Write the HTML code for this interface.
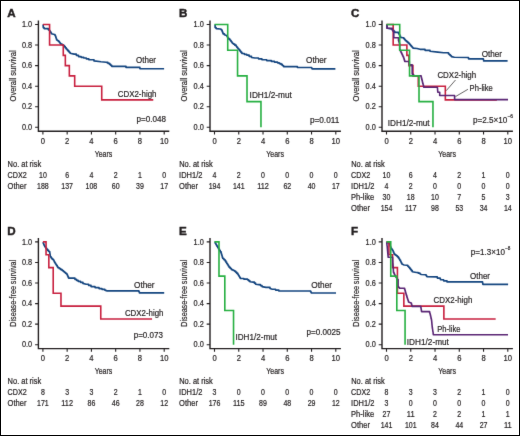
<!DOCTYPE html>
<html><head><meta charset="utf-8"><style>
html,body{margin:0;padding:0;background:#fff;}
svg{display:block;will-change:transform;}
text{font-family:"Liberation Sans", sans-serif;fill:#231f20;stroke:#231f20;stroke-width:0.2px;}
</style></head><body>
<svg width="520" height="436" viewBox="0 0 520 436">
<defs><filter id="bl" color-interpolation-filters="sRGB" x="-5%" y="-5%" width="110%" height="110%"><feConvolveMatrix order="3" kernelMatrix="0.00524 0.06192 0.00524 0.06192 0.73137 0.06192 0.00524 0.06192 0.00524" edgeMode="none" preserveAlpha="false"/></filter></defs>
<rect x="0" y="0" width="520" height="436" fill="#fff"/>
<g filter="url(#bl)">
<text x="7.30" y="17.00" font-size="11.60" font-weight="bold" style="stroke-width:0.45px">A</text>
<path d="M38.40 20.60 V131.20 H169.30" fill="none" stroke="#231f20" stroke-width="1.4"/>
<path d="M35.10 127.30H38.40M35.10 106.74H38.40M35.10 86.18H38.40M35.10 65.62H38.40M35.10 45.06H38.40M35.10 24.50H38.40M42.90 131.20V134.40M67.16 131.20V134.40M91.42 131.20V134.40M115.68 131.20V134.40M139.94 131.20V134.40M164.20 131.20V134.40" fill="none" stroke="#231f20" stroke-width="1.1"/>
<text x="32.20" y="130.05" font-size="8.30" text-anchor="end" textLength="10.20" lengthAdjust="spacingAndGlyphs">0.0</text>
<text x="32.20" y="109.49" font-size="8.30" text-anchor="end" textLength="10.20" lengthAdjust="spacingAndGlyphs">0.2</text>
<text x="32.20" y="88.93" font-size="8.30" text-anchor="end" textLength="10.20" lengthAdjust="spacingAndGlyphs">0.4</text>
<text x="32.20" y="68.37" font-size="8.30" text-anchor="end" textLength="10.20" lengthAdjust="spacingAndGlyphs">0.6</text>
<text x="32.20" y="47.81" font-size="8.30" text-anchor="end" textLength="10.20" lengthAdjust="spacingAndGlyphs">0.8</text>
<text x="32.20" y="27.25" font-size="8.30" text-anchor="end" textLength="10.20" lengthAdjust="spacingAndGlyphs">1.0</text>
<text x="42.90" y="143.90" font-size="8.30" text-anchor="middle" textLength="4.25" lengthAdjust="spacingAndGlyphs">0</text>
<text x="67.16" y="143.90" font-size="8.30" text-anchor="middle" textLength="4.25" lengthAdjust="spacingAndGlyphs">2</text>
<text x="91.42" y="143.90" font-size="8.30" text-anchor="middle" textLength="4.25" lengthAdjust="spacingAndGlyphs">4</text>
<text x="115.68" y="143.90" font-size="8.30" text-anchor="middle" textLength="4.25" lengthAdjust="spacingAndGlyphs">6</text>
<text x="139.94" y="143.90" font-size="8.30" text-anchor="middle" textLength="4.25" lengthAdjust="spacingAndGlyphs">8</text>
<text x="164.20" y="143.90" font-size="8.30" text-anchor="middle" textLength="8.50" lengthAdjust="spacingAndGlyphs">10</text>
<text x="103.50" y="156.80" font-size="8.60" text-anchor="middle" textLength="17.60" lengthAdjust="spacingAndGlyphs">Years</text>
<text transform="translate(15.80 75.90) rotate(-90)" font-size="9.00" text-anchor="middle" textLength="51.00" lengthAdjust="spacingAndGlyphs">Overall survival</text>
<path d="M43.10 24.50 L43.30 27.60 L44.10 27.60 L44.10 28.60 L48.30 28.60 L48.30 29.70 L49.00 29.70 L49.00 30.35 L49.70 30.35 L49.70 31.00 L50.27 31.00 L50.27 31.93 L50.83 31.93 L50.83 32.87 L51.40 32.87 L51.40 33.80 L54.50 34.50 L55.00 34.50 L55.00 35.55 L55.50 35.55 L55.50 36.60 L55.87 36.60 L55.87 37.73 L56.23 37.73 L56.23 38.87 L56.60 38.87 L56.60 40.00 L57.60 40.00 L57.60 40.70 L58.60 40.70 L58.60 41.40 L59.30 41.40 L59.30 42.30 L60.00 42.30 L60.00 43.20 L60.70 43.20 L60.70 44.10 L62.05 44.10 L62.05 44.80 L63.40 44.80 L63.40 45.50 L64.33 45.50 L64.33 46.67 L65.27 46.67 L65.27 47.83 L66.20 47.83 L66.20 49.00 L67.17 49.00 L67.17 50.08 L68.15 50.08 L68.15 51.15 L69.12 51.15 L69.12 52.22 L70.10 52.22 L70.10 53.30 L74.10 54.10 L76.30 54.10 L76.30 55.35 L78.50 55.35 L78.50 56.60 L81.10 56.60 L81.10 57.30 L83.70 57.30 L83.70 58.00 L86.25 58.00 L86.25 58.85 L88.80 58.85 L88.80 59.70 L94.00 59.70 L94.00 60.90 L101.00 61.80 L106.10 62.30 L107.85 62.30 L107.85 63.35 L109.60 63.35 L109.60 64.40 L110.65 64.40 L110.65 65.35 L111.70 65.35 L111.70 66.30 L124.30 66.30 L126.00 66.30 L126.00 67.40 L139.00 67.40 L139.90 67.40 L139.90 68.70 L164.10 68.70" fill="none" stroke="#154680" stroke-width="1.65" stroke-linejoin="round" stroke-linecap="butt"/>
<path d="M42.90 24.50H49.57V45.06H63.28V55.34H65.34V65.62H69.34V75.90H74.68V86.18H101.73V99.85H153.28" fill="none" stroke="#c8203f" stroke-width="1.60" stroke-linejoin="miter" stroke-linecap="butt"/>
<text x="136.00" y="63.40" font-size="8.70" textLength="20.00" lengthAdjust="spacingAndGlyphs">Other</text>
<text x="117.70" y="96.50" font-size="8.70" textLength="38.80" lengthAdjust="spacingAndGlyphs">CDX2-high</text>
<text x="136.60" y="121.90" font-size="8.70" textLength="29.50" lengthAdjust="spacingAndGlyphs">p=0.048</text>
<text x="7.60" y="166.80" font-size="8.20" textLength="33.60" lengthAdjust="spacingAndGlyphs">No. at risk</text>
<text x="7.50" y="177.80" font-size="8.20" textLength="19.20" lengthAdjust="spacingAndGlyphs">CDX2</text>
<text x="42.90" y="177.80" font-size="8.20" text-anchor="middle" textLength="7.80" lengthAdjust="spacingAndGlyphs">10</text>
<text x="67.16" y="177.80" font-size="8.20" text-anchor="middle" textLength="3.90" lengthAdjust="spacingAndGlyphs">6</text>
<text x="91.42" y="177.80" font-size="8.20" text-anchor="middle" textLength="3.90" lengthAdjust="spacingAndGlyphs">4</text>
<text x="115.68" y="177.80" font-size="8.20" text-anchor="middle" textLength="3.90" lengthAdjust="spacingAndGlyphs">2</text>
<text x="139.94" y="177.80" font-size="8.20" text-anchor="middle" textLength="3.90" lengthAdjust="spacingAndGlyphs">1</text>
<text x="164.20" y="177.80" font-size="8.20" text-anchor="middle" textLength="3.90" lengthAdjust="spacingAndGlyphs">0</text>
<text x="7.50" y="188.88" font-size="8.20" textLength="18.90" lengthAdjust="spacingAndGlyphs">Other</text>
<text x="42.90" y="188.88" font-size="8.20" text-anchor="middle" textLength="11.70" lengthAdjust="spacingAndGlyphs">188</text>
<text x="67.16" y="188.88" font-size="8.20" text-anchor="middle" textLength="11.70" lengthAdjust="spacingAndGlyphs">137</text>
<text x="91.42" y="188.88" font-size="8.20" text-anchor="middle" textLength="11.70" lengthAdjust="spacingAndGlyphs">108</text>
<text x="115.68" y="188.88" font-size="8.20" text-anchor="middle" textLength="7.80" lengthAdjust="spacingAndGlyphs">60</text>
<text x="139.94" y="188.88" font-size="8.20" text-anchor="middle" textLength="7.80" lengthAdjust="spacingAndGlyphs">39</text>
<text x="164.20" y="188.88" font-size="8.20" text-anchor="middle" textLength="7.80" lengthAdjust="spacingAndGlyphs">17</text>
<text x="178.90" y="17.00" font-size="11.60" font-weight="bold" style="stroke-width:0.45px">B</text>
<path d="M210.00 20.60 V131.20 H340.90" fill="none" stroke="#231f20" stroke-width="1.4"/>
<path d="M206.70 127.30H210.00M206.70 106.74H210.00M206.70 86.18H210.00M206.70 65.62H210.00M206.70 45.06H210.00M206.70 24.50H210.00M214.50 131.20V134.40M238.76 131.20V134.40M263.02 131.20V134.40M287.28 131.20V134.40M311.54 131.20V134.40M335.80 131.20V134.40" fill="none" stroke="#231f20" stroke-width="1.1"/>
<text x="203.80" y="130.05" font-size="8.30" text-anchor="end" textLength="10.20" lengthAdjust="spacingAndGlyphs">0.0</text>
<text x="203.80" y="109.49" font-size="8.30" text-anchor="end" textLength="10.20" lengthAdjust="spacingAndGlyphs">0.2</text>
<text x="203.80" y="88.93" font-size="8.30" text-anchor="end" textLength="10.20" lengthAdjust="spacingAndGlyphs">0.4</text>
<text x="203.80" y="68.37" font-size="8.30" text-anchor="end" textLength="10.20" lengthAdjust="spacingAndGlyphs">0.6</text>
<text x="203.80" y="47.81" font-size="8.30" text-anchor="end" textLength="10.20" lengthAdjust="spacingAndGlyphs">0.8</text>
<text x="203.80" y="27.25" font-size="8.30" text-anchor="end" textLength="10.20" lengthAdjust="spacingAndGlyphs">1.0</text>
<text x="214.50" y="143.90" font-size="8.30" text-anchor="middle" textLength="4.25" lengthAdjust="spacingAndGlyphs">0</text>
<text x="238.76" y="143.90" font-size="8.30" text-anchor="middle" textLength="4.25" lengthAdjust="spacingAndGlyphs">2</text>
<text x="263.02" y="143.90" font-size="8.30" text-anchor="middle" textLength="4.25" lengthAdjust="spacingAndGlyphs">4</text>
<text x="287.28" y="143.90" font-size="8.30" text-anchor="middle" textLength="4.25" lengthAdjust="spacingAndGlyphs">6</text>
<text x="311.54" y="143.90" font-size="8.30" text-anchor="middle" textLength="4.25" lengthAdjust="spacingAndGlyphs">8</text>
<text x="335.80" y="143.90" font-size="8.30" text-anchor="middle" textLength="8.50" lengthAdjust="spacingAndGlyphs">10</text>
<text x="275.10" y="156.80" font-size="8.60" text-anchor="middle" textLength="17.60" lengthAdjust="spacingAndGlyphs">Years</text>
<text transform="translate(187.40 75.90) rotate(-90)" font-size="9.00" text-anchor="middle" textLength="51.00" lengthAdjust="spacingAndGlyphs">Overall survival</text>
<path d="M215.10 24.60 L215.10 27.60 L216.10 27.60 L216.10 28.60 L220.30 29.00 L221.00 29.00 L221.00 29.65 L221.70 29.65 L221.70 30.30 L222.13 30.30 L222.13 31.47 L222.57 31.47 L222.57 32.63 L223.00 32.63 L223.00 33.80 L224.40 33.80 L224.40 34.80 L226.50 35.50 L226.97 35.50 L226.97 36.43 L227.43 36.43 L227.43 37.37 L227.90 37.37 L227.90 38.30 L228.90 38.30 L228.90 39.15 L229.90 39.15 L229.90 40.00 L230.60 40.00 L230.60 40.93 L231.30 40.93 L231.30 41.87 L232.00 41.87 L232.00 42.80 L232.70 42.80 L232.70 43.45 L233.40 43.45 L233.40 44.10 L234.75 44.10 L234.75 45.15 L236.10 45.15 L236.10 46.20 L236.80 46.20 L236.80 47.13 L237.50 47.13 L237.50 48.07 L238.20 48.07 L238.20 49.00 L239.12 49.00 L239.12 50.12 L240.05 50.12 L240.05 51.25 L240.97 51.25 L240.97 52.38 L241.90 52.38 L241.90 53.50 L244.30 53.50 L244.30 54.30 L246.70 54.30 L246.70 55.10 L249.10 55.10 L249.10 56.30 L251.50 56.30 L251.50 57.50 L255.00 58.00 L258.45 58.00 L258.45 58.85 L261.90 58.85 L261.90 59.70 L266.65 59.70 L266.65 60.55 L271.40 60.55 L271.40 61.40 L274.45 61.40 L274.45 62.10 L277.50 62.10 L277.50 62.80 L279.25 62.80 L279.25 63.60 L281.00 63.60 L281.00 64.40 L282.25 64.40 L282.25 65.50 L283.50 65.50 L283.50 66.60 L296.50 66.60 L297.40 66.60 L297.40 67.50 L311.20 67.50 L311.65 67.50 L311.65 68.20 L312.10 68.20 L312.10 68.90 L335.40 68.90" fill="none" stroke="#154680" stroke-width="1.65" stroke-linejoin="round" stroke-linecap="butt"/>
<path d="M214.50 24.50H227.72V50.20H237.55V75.90H247.01V101.60H260.96V127.30" fill="none" stroke="#27b042" stroke-width="1.60" stroke-linejoin="miter" stroke-linecap="butt"/>
<text x="306.00" y="63.00" font-size="8.70" textLength="20.60" lengthAdjust="spacingAndGlyphs">Other</text>
<text x="249.60" y="97.70" font-size="8.70" textLength="42.20" lengthAdjust="spacingAndGlyphs">IDH1/2-mut</text>
<text x="309.90" y="123.20" font-size="8.70" textLength="29.40" lengthAdjust="spacingAndGlyphs">p=0.011</text>
<text x="179.20" y="166.80" font-size="8.20" textLength="33.60" lengthAdjust="spacingAndGlyphs">No. at risk</text>
<text x="179.10" y="177.80" font-size="8.20" textLength="23.30" lengthAdjust="spacingAndGlyphs">IDH1/2</text>
<text x="214.50" y="177.80" font-size="8.20" text-anchor="middle" textLength="3.90" lengthAdjust="spacingAndGlyphs">4</text>
<text x="238.76" y="177.80" font-size="8.20" text-anchor="middle" textLength="3.90" lengthAdjust="spacingAndGlyphs">2</text>
<text x="263.02" y="177.80" font-size="8.20" text-anchor="middle" textLength="3.90" lengthAdjust="spacingAndGlyphs">0</text>
<text x="287.28" y="177.80" font-size="8.20" text-anchor="middle" textLength="3.90" lengthAdjust="spacingAndGlyphs">0</text>
<text x="311.54" y="177.80" font-size="8.20" text-anchor="middle" textLength="3.90" lengthAdjust="spacingAndGlyphs">0</text>
<text x="335.80" y="177.80" font-size="8.20" text-anchor="middle" textLength="3.90" lengthAdjust="spacingAndGlyphs">0</text>
<text x="179.10" y="188.88" font-size="8.20" textLength="18.90" lengthAdjust="spacingAndGlyphs">Other</text>
<text x="214.50" y="188.88" font-size="8.20" text-anchor="middle" textLength="11.70" lengthAdjust="spacingAndGlyphs">194</text>
<text x="238.76" y="188.88" font-size="8.20" text-anchor="middle" textLength="11.70" lengthAdjust="spacingAndGlyphs">141</text>
<text x="263.02" y="188.88" font-size="8.20" text-anchor="middle" textLength="11.70" lengthAdjust="spacingAndGlyphs">112</text>
<text x="287.28" y="188.88" font-size="8.20" text-anchor="middle" textLength="7.80" lengthAdjust="spacingAndGlyphs">62</text>
<text x="311.54" y="188.88" font-size="8.20" text-anchor="middle" textLength="7.80" lengthAdjust="spacingAndGlyphs">40</text>
<text x="335.80" y="188.88" font-size="8.20" text-anchor="middle" textLength="7.80" lengthAdjust="spacingAndGlyphs">17</text>
<text x="350.90" y="17.00" font-size="11.60" font-weight="bold" style="stroke-width:0.45px">C</text>
<path d="M382.00 20.60 V131.20 H512.90" fill="none" stroke="#231f20" stroke-width="1.4"/>
<path d="M378.70 127.30H382.00M378.70 106.74H382.00M378.70 86.18H382.00M378.70 65.62H382.00M378.70 45.06H382.00M378.70 24.50H382.00M386.50 131.20V134.40M410.76 131.20V134.40M435.02 131.20V134.40M459.28 131.20V134.40M483.54 131.20V134.40M507.80 131.20V134.40" fill="none" stroke="#231f20" stroke-width="1.1"/>
<text x="375.80" y="130.05" font-size="8.30" text-anchor="end" textLength="10.20" lengthAdjust="spacingAndGlyphs">0.0</text>
<text x="375.80" y="109.49" font-size="8.30" text-anchor="end" textLength="10.20" lengthAdjust="spacingAndGlyphs">0.2</text>
<text x="375.80" y="88.93" font-size="8.30" text-anchor="end" textLength="10.20" lengthAdjust="spacingAndGlyphs">0.4</text>
<text x="375.80" y="68.37" font-size="8.30" text-anchor="end" textLength="10.20" lengthAdjust="spacingAndGlyphs">0.6</text>
<text x="375.80" y="47.81" font-size="8.30" text-anchor="end" textLength="10.20" lengthAdjust="spacingAndGlyphs">0.8</text>
<text x="375.80" y="27.25" font-size="8.30" text-anchor="end" textLength="10.20" lengthAdjust="spacingAndGlyphs">1.0</text>
<text x="386.50" y="143.90" font-size="8.30" text-anchor="middle" textLength="4.25" lengthAdjust="spacingAndGlyphs">0</text>
<text x="410.76" y="143.90" font-size="8.30" text-anchor="middle" textLength="4.25" lengthAdjust="spacingAndGlyphs">2</text>
<text x="435.02" y="143.90" font-size="8.30" text-anchor="middle" textLength="4.25" lengthAdjust="spacingAndGlyphs">4</text>
<text x="459.28" y="143.90" font-size="8.30" text-anchor="middle" textLength="4.25" lengthAdjust="spacingAndGlyphs">6</text>
<text x="483.54" y="143.90" font-size="8.30" text-anchor="middle" textLength="4.25" lengthAdjust="spacingAndGlyphs">8</text>
<text x="507.80" y="143.90" font-size="8.30" text-anchor="middle" textLength="8.50" lengthAdjust="spacingAndGlyphs">10</text>
<text x="447.10" y="156.80" font-size="8.60" text-anchor="middle" textLength="17.60" lengthAdjust="spacingAndGlyphs">Years</text>
<text transform="translate(359.40 75.90) rotate(-90)" font-size="9.00" text-anchor="middle" textLength="51.00" lengthAdjust="spacingAndGlyphs">Overall survival</text>
<path d="M386.90 24.50 L387.30 28.30 L392.30 29.10 L393.10 29.10 L393.10 30.20 L393.90 30.20 L393.90 31.30 L394.70 31.30 L394.70 32.40 L398.50 32.40 L398.50 33.60 L399.17 33.60 L399.17 34.87 L399.83 34.87 L399.83 36.13 L400.50 36.13 L400.50 37.40 L403.00 37.80 L403.83 37.80 L403.83 38.77 L404.67 38.77 L404.67 39.73 L405.50 39.73 L405.50 40.70 L406.60 40.70 L406.60 41.67 L407.70 41.67 L407.70 42.63 L408.80 42.63 L408.80 43.60 L409.63 43.60 L409.63 44.53 L410.47 44.53 L410.47 45.47 L411.30 45.47 L411.30 46.40 L412.10 46.40 L412.10 47.25 L412.90 47.25 L412.90 48.10 L417.00 48.50 L420.00 49.30 L425.00 49.30 L425.00 50.30 L430.00 50.30 L430.00 51.30 L437.80 52.10 L443.60 52.70 L448.50 52.70 L448.50 54.00 L449.47 54.00 L449.47 54.87 L450.43 54.87 L450.43 55.73 L451.40 55.73 L451.40 56.60 L454.40 57.30 L467.90 57.50 L468.50 57.50 L468.50 58.80 L483.10 58.80 L483.35 58.80 L483.35 59.85 L483.60 59.85 L483.60 60.90 L507.60 60.90" fill="none" stroke="#154680" stroke-width="1.65" stroke-linejoin="round" stroke-linecap="butt"/>
<path d="M386.50 24.50H393.17V45.06H406.88V55.34H408.94V65.62H412.94V75.90H418.28V86.18H445.33V99.85H496.88" fill="none" stroke="#c8203f" stroke-width="1.60" stroke-linejoin="miter" stroke-linecap="butt"/>
<path d="M386.90 24.50 L386.90 28.30 L392.30 28.30 L392.30 30.30 L393.05 30.30 L393.05 31.35 L393.80 31.35 L393.80 32.40 L393.80 37.80 L398.50 37.80 L398.50 40.70 L398.80 40.70 L398.80 41.73 L399.10 41.73 L399.10 42.75 L399.40 42.75 L399.40 43.77 L399.70 43.77 L399.70 44.80 L399.70 49.80 L400.30 49.80 L400.30 51.00 L400.90 51.00 L400.90 52.20 L401.44 52.20 L401.44 53.36 L401.98 53.36 L401.98 54.52 L402.52 54.52 L402.52 55.68 L403.06 55.68 L403.06 56.84 L403.60 56.84 L403.60 58.00 L403.97 58.00 L403.97 59.17 L404.33 59.17 L404.33 60.33 L404.70 60.33 L404.70 61.50 L409.30 61.50 L409.30 64.90 L412.20 64.90 L412.20 74.10 L413.05 74.10 L413.05 74.95 L413.90 74.95 L413.90 75.80 L420.80 75.80 L421.12 75.80 L421.12 77.08 L421.44 77.08 L421.44 78.36 L421.77 78.36 L421.77 79.63 L422.09 79.63 L422.09 80.91 L422.41 80.91 L422.41 82.19 L422.73 82.19 L422.73 83.47 L423.06 83.47 L423.06 84.74 L423.38 84.74 L423.38 86.02 L423.70 86.02 L423.70 87.30 L437.40 87.30 L437.80 92.20 L439.70 92.20 L439.70 95.50 L454.60 95.50 L454.60 99.60 L508.00 99.60" fill="none" stroke="#5a2574" stroke-width="1.60" stroke-linejoin="round" stroke-linecap="butt"/>
<path d="M386.50 24.50H399.72V50.20H409.55V75.90H419.01V101.60H432.96V127.30" fill="none" stroke="#27b042" stroke-width="1.60" stroke-linejoin="miter" stroke-linecap="butt"/>
<path d="M455.50 80.00 L446.20 90.70" stroke="#231f20" stroke-width="0.7"/>
<path d="M467.90 89.30 L455.50 96.60" stroke="#231f20" stroke-width="0.7"/>
<text x="481.70" y="56.80" font-size="8.70" textLength="20.40" lengthAdjust="spacingAndGlyphs">Other</text>
<text x="437.40" y="78.20" font-size="8.70" textLength="38.80" lengthAdjust="spacingAndGlyphs">CDX2-high</text>
<text x="469.60" y="91.30" font-size="8.70" textLength="23.20" lengthAdjust="spacingAndGlyphs">Ph-like</text>
<text x="387.80" y="126.10" font-size="8.70" textLength="41.80" lengthAdjust="spacingAndGlyphs">IDH1/2-mut</text>
<text x="472.90" y="122.50" font-size="8.70" textLength="34.40" lengthAdjust="spacingAndGlyphs">p=2.5×10</text>
<text x="507.50" y="117.90" font-size="5.60" textLength="5.60" lengthAdjust="spacingAndGlyphs">−6</text>
<text x="351.20" y="166.80" font-size="8.20" textLength="33.60" lengthAdjust="spacingAndGlyphs">No. at risk</text>
<text x="351.10" y="177.80" font-size="8.20" textLength="19.20" lengthAdjust="spacingAndGlyphs">CDX2</text>
<text x="386.50" y="177.80" font-size="8.20" text-anchor="middle" textLength="7.80" lengthAdjust="spacingAndGlyphs">10</text>
<text x="410.76" y="177.80" font-size="8.20" text-anchor="middle" textLength="3.90" lengthAdjust="spacingAndGlyphs">6</text>
<text x="435.02" y="177.80" font-size="8.20" text-anchor="middle" textLength="3.90" lengthAdjust="spacingAndGlyphs">4</text>
<text x="459.28" y="177.80" font-size="8.20" text-anchor="middle" textLength="3.90" lengthAdjust="spacingAndGlyphs">2</text>
<text x="483.54" y="177.80" font-size="8.20" text-anchor="middle" textLength="3.90" lengthAdjust="spacingAndGlyphs">1</text>
<text x="507.80" y="177.80" font-size="8.20" text-anchor="middle" textLength="3.90" lengthAdjust="spacingAndGlyphs">0</text>
<text x="351.10" y="188.88" font-size="8.20" textLength="23.30" lengthAdjust="spacingAndGlyphs">IDH1/2</text>
<text x="386.50" y="188.88" font-size="8.20" text-anchor="middle" textLength="3.90" lengthAdjust="spacingAndGlyphs">4</text>
<text x="410.76" y="188.88" font-size="8.20" text-anchor="middle" textLength="3.90" lengthAdjust="spacingAndGlyphs">2</text>
<text x="435.02" y="188.88" font-size="8.20" text-anchor="middle" textLength="3.90" lengthAdjust="spacingAndGlyphs">0</text>
<text x="459.28" y="188.88" font-size="8.20" text-anchor="middle" textLength="3.90" lengthAdjust="spacingAndGlyphs">0</text>
<text x="483.54" y="188.88" font-size="8.20" text-anchor="middle" textLength="3.90" lengthAdjust="spacingAndGlyphs">0</text>
<text x="507.80" y="188.88" font-size="8.20" text-anchor="middle" textLength="3.90" lengthAdjust="spacingAndGlyphs">0</text>
<text x="351.10" y="199.96" font-size="8.20" textLength="23.00" lengthAdjust="spacingAndGlyphs">Ph-like</text>
<text x="386.50" y="199.96" font-size="8.20" text-anchor="middle" textLength="7.80" lengthAdjust="spacingAndGlyphs">30</text>
<text x="410.76" y="199.96" font-size="8.20" text-anchor="middle" textLength="7.80" lengthAdjust="spacingAndGlyphs">18</text>
<text x="435.02" y="199.96" font-size="8.20" text-anchor="middle" textLength="7.80" lengthAdjust="spacingAndGlyphs">10</text>
<text x="459.28" y="199.96" font-size="8.20" text-anchor="middle" textLength="3.90" lengthAdjust="spacingAndGlyphs">7</text>
<text x="483.54" y="199.96" font-size="8.20" text-anchor="middle" textLength="3.90" lengthAdjust="spacingAndGlyphs">5</text>
<text x="507.80" y="199.96" font-size="8.20" text-anchor="middle" textLength="3.90" lengthAdjust="spacingAndGlyphs">3</text>
<text x="351.10" y="211.04" font-size="8.20" textLength="18.90" lengthAdjust="spacingAndGlyphs">Other</text>
<text x="386.50" y="211.04" font-size="8.20" text-anchor="middle" textLength="11.70" lengthAdjust="spacingAndGlyphs">154</text>
<text x="410.76" y="211.04" font-size="8.20" text-anchor="middle" textLength="11.70" lengthAdjust="spacingAndGlyphs">117</text>
<text x="435.02" y="211.04" font-size="8.20" text-anchor="middle" textLength="7.80" lengthAdjust="spacingAndGlyphs">98</text>
<text x="459.28" y="211.04" font-size="8.20" text-anchor="middle" textLength="7.80" lengthAdjust="spacingAndGlyphs">53</text>
<text x="483.54" y="211.04" font-size="8.20" text-anchor="middle" textLength="7.80" lengthAdjust="spacingAndGlyphs">34</text>
<text x="507.80" y="211.04" font-size="8.20" text-anchor="middle" textLength="7.80" lengthAdjust="spacingAndGlyphs">14</text>
<text x="7.30" y="235.40" font-size="11.60" font-weight="bold" style="stroke-width:0.45px">D</text>
<path d="M38.40 238.00 V348.60 H169.30" fill="none" stroke="#231f20" stroke-width="1.4"/>
<path d="M35.10 344.70H38.40M35.10 324.14H38.40M35.10 303.58H38.40M35.10 283.02H38.40M35.10 262.46H38.40M35.10 241.90H38.40M42.90 348.60V351.80M67.16 348.60V351.80M91.42 348.60V351.80M115.68 348.60V351.80M139.94 348.60V351.80M164.20 348.60V351.80" fill="none" stroke="#231f20" stroke-width="1.1"/>
<text x="32.20" y="347.45" font-size="8.30" text-anchor="end" textLength="10.20" lengthAdjust="spacingAndGlyphs">0.0</text>
<text x="32.20" y="326.89" font-size="8.30" text-anchor="end" textLength="10.20" lengthAdjust="spacingAndGlyphs">0.2</text>
<text x="32.20" y="306.33" font-size="8.30" text-anchor="end" textLength="10.20" lengthAdjust="spacingAndGlyphs">0.4</text>
<text x="32.20" y="285.77" font-size="8.30" text-anchor="end" textLength="10.20" lengthAdjust="spacingAndGlyphs">0.6</text>
<text x="32.20" y="265.21" font-size="8.30" text-anchor="end" textLength="10.20" lengthAdjust="spacingAndGlyphs">0.8</text>
<text x="32.20" y="244.65" font-size="8.30" text-anchor="end" textLength="10.20" lengthAdjust="spacingAndGlyphs">1.0</text>
<text x="42.90" y="361.30" font-size="8.30" text-anchor="middle" textLength="4.25" lengthAdjust="spacingAndGlyphs">0</text>
<text x="67.16" y="361.30" font-size="8.30" text-anchor="middle" textLength="4.25" lengthAdjust="spacingAndGlyphs">2</text>
<text x="91.42" y="361.30" font-size="8.30" text-anchor="middle" textLength="4.25" lengthAdjust="spacingAndGlyphs">4</text>
<text x="115.68" y="361.30" font-size="8.30" text-anchor="middle" textLength="4.25" lengthAdjust="spacingAndGlyphs">6</text>
<text x="139.94" y="361.30" font-size="8.30" text-anchor="middle" textLength="4.25" lengthAdjust="spacingAndGlyphs">8</text>
<text x="164.20" y="361.30" font-size="8.30" text-anchor="middle" textLength="8.50" lengthAdjust="spacingAndGlyphs">10</text>
<text x="103.50" y="374.20" font-size="8.60" text-anchor="middle" textLength="17.60" lengthAdjust="spacingAndGlyphs">Years</text>
<text transform="translate(15.80 293.30) rotate(-90)" font-size="9.00" text-anchor="middle" textLength="66.70" lengthAdjust="spacingAndGlyphs">Disease-free survival</text>
<path d="M43.10 242.10 L43.30 243.30 L43.70 243.30 L43.70 244.45 L44.10 244.45 L44.10 245.60 L44.70 245.60 L44.70 246.50 L45.30 246.50 L45.30 247.40 L45.90 247.40 L45.90 248.30 L46.75 248.30 L46.75 249.35 L47.60 249.35 L47.60 250.40 L48.65 250.40 L48.65 251.45 L49.70 251.45 L49.70 252.50 L49.85 252.50 L49.85 253.53 L50.00 253.53 L50.00 254.55 L50.15 254.55 L50.15 255.58 L50.30 255.58 L50.30 256.60 L51.00 256.60 L51.00 257.65 L51.70 257.65 L51.70 258.70 L52.55 258.70 L52.55 259.40 L53.40 259.40 L53.40 260.10 L53.87 260.10 L53.87 261.00 L54.33 261.00 L54.33 261.90 L54.80 261.90 L54.80 262.80 L55.40 262.80 L55.40 263.73 L56.00 263.73 L56.00 264.67 L56.60 264.67 L56.60 265.60 L57.25 265.60 L57.25 266.65 L57.90 266.65 L57.90 267.70 L59.30 267.70 L59.30 268.63 L60.70 268.63 L60.70 269.57 L62.10 269.57 L62.10 270.50 L63.30 270.50 L63.30 271.50 L64.50 271.50 L64.50 272.50 L65.70 272.50 L65.70 273.50 L66.90 273.50 L66.90 274.50 L67.43 274.50 L67.43 275.70 L67.97 275.70 L67.97 276.90 L68.50 276.90 L68.50 278.10 L74.90 278.10 L74.90 279.30 L76.50 279.30 L76.50 280.30 L78.10 280.30 L78.10 281.30 L80.50 281.30 L80.50 282.35 L82.90 282.35 L82.90 283.40 L86.20 284.20 L88.60 284.20 L88.60 285.40 L91.00 285.40 L91.00 286.60 L95.00 286.60 L95.00 287.60 L99.00 287.60 L99.00 288.60 L101.90 288.60 L101.90 289.35 L104.80 289.35 L104.80 290.10 L107.20 290.90 L138.50 290.90 L138.90 290.90 L138.90 291.85 L139.30 291.85 L139.30 292.80 L164.20 292.80" fill="none" stroke="#154680" stroke-width="1.65" stroke-linejoin="round" stroke-linecap="butt"/>
<path d="M42.90 241.90H46.05V254.75H48.84V267.60H53.21V293.30H60.97V306.15H100.76V319.00H152.07" fill="none" stroke="#c8203f" stroke-width="1.60" stroke-linejoin="miter" stroke-linecap="butt"/>
<text x="134.00" y="287.90" font-size="8.70" textLength="20.60" lengthAdjust="spacingAndGlyphs">Other</text>
<text x="124.90" y="315.90" font-size="8.70" textLength="38.50" lengthAdjust="spacingAndGlyphs">CDX2-high</text>
<text x="133.70" y="337.60" font-size="8.70" textLength="29.20" lengthAdjust="spacingAndGlyphs">p=0.073</text>
<text x="7.60" y="384.20" font-size="8.20" textLength="33.60" lengthAdjust="spacingAndGlyphs">No. at risk</text>
<text x="7.50" y="395.20" font-size="8.20" textLength="19.20" lengthAdjust="spacingAndGlyphs">CDX2</text>
<text x="42.90" y="395.20" font-size="8.20" text-anchor="middle" textLength="3.90" lengthAdjust="spacingAndGlyphs">8</text>
<text x="67.16" y="395.20" font-size="8.20" text-anchor="middle" textLength="3.90" lengthAdjust="spacingAndGlyphs">3</text>
<text x="91.42" y="395.20" font-size="8.20" text-anchor="middle" textLength="3.90" lengthAdjust="spacingAndGlyphs">3</text>
<text x="115.68" y="395.20" font-size="8.20" text-anchor="middle" textLength="3.90" lengthAdjust="spacingAndGlyphs">2</text>
<text x="139.94" y="395.20" font-size="8.20" text-anchor="middle" textLength="3.90" lengthAdjust="spacingAndGlyphs">1</text>
<text x="164.20" y="395.20" font-size="8.20" text-anchor="middle" textLength="3.90" lengthAdjust="spacingAndGlyphs">0</text>
<text x="7.50" y="406.28" font-size="8.20" textLength="18.90" lengthAdjust="spacingAndGlyphs">Other</text>
<text x="42.90" y="406.28" font-size="8.20" text-anchor="middle" textLength="11.70" lengthAdjust="spacingAndGlyphs">171</text>
<text x="67.16" y="406.28" font-size="8.20" text-anchor="middle" textLength="11.70" lengthAdjust="spacingAndGlyphs">112</text>
<text x="91.42" y="406.28" font-size="8.20" text-anchor="middle" textLength="7.80" lengthAdjust="spacingAndGlyphs">86</text>
<text x="115.68" y="406.28" font-size="8.20" text-anchor="middle" textLength="7.80" lengthAdjust="spacingAndGlyphs">46</text>
<text x="139.94" y="406.28" font-size="8.20" text-anchor="middle" textLength="7.80" lengthAdjust="spacingAndGlyphs">28</text>
<text x="164.20" y="406.28" font-size="8.20" text-anchor="middle" textLength="7.80" lengthAdjust="spacingAndGlyphs">12</text>
<text x="178.90" y="235.40" font-size="11.60" font-weight="bold" style="stroke-width:0.45px">E</text>
<path d="M210.00 238.00 V348.60 H340.90" fill="none" stroke="#231f20" stroke-width="1.4"/>
<path d="M206.70 344.70H210.00M206.70 324.14H210.00M206.70 303.58H210.00M206.70 283.02H210.00M206.70 262.46H210.00M206.70 241.90H210.00M214.50 348.60V351.80M238.76 348.60V351.80M263.02 348.60V351.80M287.28 348.60V351.80M311.54 348.60V351.80M335.80 348.60V351.80" fill="none" stroke="#231f20" stroke-width="1.1"/>
<text x="203.80" y="347.45" font-size="8.30" text-anchor="end" textLength="10.20" lengthAdjust="spacingAndGlyphs">0.0</text>
<text x="203.80" y="326.89" font-size="8.30" text-anchor="end" textLength="10.20" lengthAdjust="spacingAndGlyphs">0.2</text>
<text x="203.80" y="306.33" font-size="8.30" text-anchor="end" textLength="10.20" lengthAdjust="spacingAndGlyphs">0.4</text>
<text x="203.80" y="285.77" font-size="8.30" text-anchor="end" textLength="10.20" lengthAdjust="spacingAndGlyphs">0.6</text>
<text x="203.80" y="265.21" font-size="8.30" text-anchor="end" textLength="10.20" lengthAdjust="spacingAndGlyphs">0.8</text>
<text x="203.80" y="244.65" font-size="8.30" text-anchor="end" textLength="10.20" lengthAdjust="spacingAndGlyphs">1.0</text>
<text x="214.50" y="361.30" font-size="8.30" text-anchor="middle" textLength="4.25" lengthAdjust="spacingAndGlyphs">0</text>
<text x="238.76" y="361.30" font-size="8.30" text-anchor="middle" textLength="4.25" lengthAdjust="spacingAndGlyphs">2</text>
<text x="263.02" y="361.30" font-size="8.30" text-anchor="middle" textLength="4.25" lengthAdjust="spacingAndGlyphs">4</text>
<text x="287.28" y="361.30" font-size="8.30" text-anchor="middle" textLength="4.25" lengthAdjust="spacingAndGlyphs">6</text>
<text x="311.54" y="361.30" font-size="8.30" text-anchor="middle" textLength="4.25" lengthAdjust="spacingAndGlyphs">8</text>
<text x="335.80" y="361.30" font-size="8.30" text-anchor="middle" textLength="8.50" lengthAdjust="spacingAndGlyphs">10</text>
<text x="275.10" y="374.20" font-size="8.60" text-anchor="middle" textLength="17.60" lengthAdjust="spacingAndGlyphs">Years</text>
<text transform="translate(187.40 293.30) rotate(-90)" font-size="9.00" text-anchor="middle" textLength="66.70" lengthAdjust="spacingAndGlyphs">Disease-free survival</text>
<path d="M214.60 242.10 L215.20 242.10 L215.20 243.18 L215.80 243.18 L215.80 244.25 L216.40 244.25 L216.40 245.32 L217.00 245.32 L217.00 246.40 L217.80 246.40 L217.80 247.70 L218.60 247.70 L218.60 249.00 L219.40 249.00 L219.40 250.30 L220.20 250.30 L220.20 251.60 L221.00 251.60 L221.00 252.90 L221.34 252.90 L221.34 254.02 L221.68 254.02 L221.68 255.14 L222.02 255.14 L222.02 256.26 L222.36 256.26 L222.36 257.38 L222.70 257.38 L222.70 258.50 L223.90 258.50 L223.90 259.70 L225.10 259.70 L225.10 260.90 L225.90 260.90 L225.90 262.18 L226.70 262.18 L226.70 263.46 L227.50 263.46 L227.50 264.74 L228.30 264.74 L228.30 266.02 L229.10 266.02 L229.10 267.30 L230.30 267.30 L230.30 268.50 L231.50 268.50 L231.50 269.70 L233.10 269.70 L233.10 270.50 L234.70 270.50 L234.70 271.30 L235.77 271.30 L235.77 272.37 L236.83 272.37 L236.83 273.43 L237.90 273.43 L237.90 274.50 L238.50 274.50 L238.50 275.50 L239.10 275.50 L239.10 276.50 L239.70 276.50 L239.70 277.50 L240.30 277.50 L240.30 278.50 L243.90 278.50 L243.90 279.15 L247.50 279.15 L247.50 279.80 L248.70 279.80 L248.70 280.80 L249.90 280.80 L249.90 281.80 L253.20 282.10 L254.40 282.10 L254.40 283.15 L255.60 283.15 L255.60 284.20 L258.80 284.60 L260.40 284.60 L260.40 285.60 L262.00 285.60 L262.00 286.60 L266.00 287.40 L270.00 287.40 L270.00 288.50 L272.30 289.20 L275.55 289.20 L275.55 290.10 L278.80 290.10 L278.80 291.00 L310.00 291.00 L310.65 291.00 L310.65 292.00 L311.30 292.00 L311.30 293.00 L336.00 293.00" fill="none" stroke="#154680" stroke-width="1.65" stroke-linejoin="round" stroke-linecap="butt"/>
<path d="M214.50 241.90H218.99V276.13H224.81V310.47H233.54V344.70" fill="none" stroke="#27b042" stroke-width="1.60" stroke-linejoin="miter" stroke-linecap="butt"/>
<text x="311.30" y="287.80" font-size="8.70" textLength="20.70" lengthAdjust="spacingAndGlyphs">Other</text>
<text x="235.50" y="339.70" font-size="8.70" textLength="41.50" lengthAdjust="spacingAndGlyphs">IDH1/2-mut</text>
<text x="306.60" y="334.60" font-size="8.70" textLength="34.00" lengthAdjust="spacingAndGlyphs">p=0.0025</text>
<text x="179.20" y="384.20" font-size="8.20" textLength="33.60" lengthAdjust="spacingAndGlyphs">No. at risk</text>
<text x="179.10" y="395.20" font-size="8.20" textLength="23.30" lengthAdjust="spacingAndGlyphs">IDH1/2</text>
<text x="214.50" y="395.20" font-size="8.20" text-anchor="middle" textLength="3.90" lengthAdjust="spacingAndGlyphs">3</text>
<text x="238.76" y="395.20" font-size="8.20" text-anchor="middle" textLength="3.90" lengthAdjust="spacingAndGlyphs">0</text>
<text x="263.02" y="395.20" font-size="8.20" text-anchor="middle" textLength="3.90" lengthAdjust="spacingAndGlyphs">0</text>
<text x="287.28" y="395.20" font-size="8.20" text-anchor="middle" textLength="3.90" lengthAdjust="spacingAndGlyphs">0</text>
<text x="311.54" y="395.20" font-size="8.20" text-anchor="middle" textLength="3.90" lengthAdjust="spacingAndGlyphs">0</text>
<text x="335.80" y="395.20" font-size="8.20" text-anchor="middle" textLength="3.90" lengthAdjust="spacingAndGlyphs">0</text>
<text x="179.10" y="406.28" font-size="8.20" textLength="18.90" lengthAdjust="spacingAndGlyphs">Other</text>
<text x="214.50" y="406.28" font-size="8.20" text-anchor="middle" textLength="11.70" lengthAdjust="spacingAndGlyphs">176</text>
<text x="238.76" y="406.28" font-size="8.20" text-anchor="middle" textLength="11.70" lengthAdjust="spacingAndGlyphs">115</text>
<text x="263.02" y="406.28" font-size="8.20" text-anchor="middle" textLength="7.80" lengthAdjust="spacingAndGlyphs">89</text>
<text x="287.28" y="406.28" font-size="8.20" text-anchor="middle" textLength="7.80" lengthAdjust="spacingAndGlyphs">48</text>
<text x="311.54" y="406.28" font-size="8.20" text-anchor="middle" textLength="7.80" lengthAdjust="spacingAndGlyphs">29</text>
<text x="335.80" y="406.28" font-size="8.20" text-anchor="middle" textLength="7.80" lengthAdjust="spacingAndGlyphs">12</text>
<text x="350.90" y="235.40" font-size="11.60" font-weight="bold" style="stroke-width:0.45px">F</text>
<path d="M382.00 238.00 V348.60 H512.90" fill="none" stroke="#231f20" stroke-width="1.4"/>
<path d="M378.70 344.70H382.00M378.70 324.14H382.00M378.70 303.58H382.00M378.70 283.02H382.00M378.70 262.46H382.00M378.70 241.90H382.00M386.50 348.60V351.80M410.76 348.60V351.80M435.02 348.60V351.80M459.28 348.60V351.80M483.54 348.60V351.80M507.80 348.60V351.80" fill="none" stroke="#231f20" stroke-width="1.1"/>
<text x="375.80" y="347.45" font-size="8.30" text-anchor="end" textLength="10.20" lengthAdjust="spacingAndGlyphs">0.0</text>
<text x="375.80" y="326.89" font-size="8.30" text-anchor="end" textLength="10.20" lengthAdjust="spacingAndGlyphs">0.2</text>
<text x="375.80" y="306.33" font-size="8.30" text-anchor="end" textLength="10.20" lengthAdjust="spacingAndGlyphs">0.4</text>
<text x="375.80" y="285.77" font-size="8.30" text-anchor="end" textLength="10.20" lengthAdjust="spacingAndGlyphs">0.6</text>
<text x="375.80" y="265.21" font-size="8.30" text-anchor="end" textLength="10.20" lengthAdjust="spacingAndGlyphs">0.8</text>
<text x="375.80" y="244.65" font-size="8.30" text-anchor="end" textLength="10.20" lengthAdjust="spacingAndGlyphs">1.0</text>
<text x="386.50" y="361.30" font-size="8.30" text-anchor="middle" textLength="4.25" lengthAdjust="spacingAndGlyphs">0</text>
<text x="410.76" y="361.30" font-size="8.30" text-anchor="middle" textLength="4.25" lengthAdjust="spacingAndGlyphs">2</text>
<text x="435.02" y="361.30" font-size="8.30" text-anchor="middle" textLength="4.25" lengthAdjust="spacingAndGlyphs">4</text>
<text x="459.28" y="361.30" font-size="8.30" text-anchor="middle" textLength="4.25" lengthAdjust="spacingAndGlyphs">6</text>
<text x="483.54" y="361.30" font-size="8.30" text-anchor="middle" textLength="4.25" lengthAdjust="spacingAndGlyphs">8</text>
<text x="507.80" y="361.30" font-size="8.30" text-anchor="middle" textLength="8.50" lengthAdjust="spacingAndGlyphs">10</text>
<text x="447.10" y="374.20" font-size="8.60" text-anchor="middle" textLength="17.60" lengthAdjust="spacingAndGlyphs">Years</text>
<text transform="translate(359.40 293.30) rotate(-90)" font-size="9.00" text-anchor="middle" textLength="66.70" lengthAdjust="spacingAndGlyphs">Disease-free survival</text>
<path d="M386.70 242.10 L387.95 242.10 L387.95 243.10 L389.20 243.10 L389.20 244.10 L389.62 244.10 L389.62 245.12 L390.05 245.12 L390.05 246.15 L390.47 246.15 L390.47 247.17 L390.90 247.17 L390.90 248.20 L391.57 248.20 L391.57 249.13 L392.23 249.13 L392.23 250.07 L392.90 250.07 L392.90 251.00 L393.37 251.00 L393.37 252.13 L393.83 252.13 L393.83 253.27 L394.30 253.27 L394.30 254.40 L395.35 254.40 L395.35 255.10 L396.40 255.10 L396.40 255.80 L397.40 255.80 L397.40 256.85 L398.40 256.85 L398.40 257.90 L399.10 257.90 L399.10 259.03 L399.80 259.03 L399.80 260.17 L400.50 260.17 L400.50 261.30 L400.97 261.30 L400.97 262.23 L401.43 262.23 L401.43 263.17 L401.90 263.17 L401.90 264.10 L404.10 265.00 L406.80 265.20 L407.73 265.20 L407.73 266.23 L408.67 266.23 L408.67 267.27 L409.60 267.27 L409.60 268.30 L410.50 268.30 L410.50 269.47 L411.40 269.47 L411.40 270.63 L412.30 270.63 L412.30 271.80 L416.50 272.50 L418.20 272.50 L418.20 273.15 L419.90 273.15 L419.90 273.80 L421.30 274.50 L425.40 274.80 L426.10 274.80 L426.10 275.70 L426.80 275.70 L426.80 276.60 L436.50 276.90 L437.30 276.90 L437.30 278.10 L439.80 278.10 L440.15 278.10 L440.15 278.90 L440.50 278.90 L440.50 279.70 L443.10 279.70 L443.60 279.70 L443.60 280.80 L446.30 280.80 L447.00 280.80 L447.00 281.90 L482.30 281.90 L482.55 281.90 L482.55 283.10 L482.80 283.10 L482.80 284.30 L508.10 284.30" fill="none" stroke="#154680" stroke-width="1.65" stroke-linejoin="round" stroke-linecap="butt"/>
<path d="M386.50 241.90H388.93V254.75H392.56V267.60H397.42V293.30H403.85V306.15H443.87V319.00H495.67" fill="none" stroke="#c8203f" stroke-width="1.60" stroke-linejoin="miter" stroke-linecap="butt"/>
<path d="M386.70 242.10 L387.10 246.00 L387.20 246.00 L387.20 247.10 L387.30 247.10 L387.30 248.20 L387.40 248.20 L387.40 249.30 L387.50 249.30 L387.50 250.40 L387.60 250.40 L387.60 251.50 L387.70 251.50 L387.70 252.64 L387.80 252.64 L387.80 253.78 L387.90 253.78 L387.90 254.92 L388.00 254.92 L388.00 256.06 L388.10 256.06 L388.10 257.20 L392.60 257.20 L392.80 263.00 L392.90 263.00 L392.90 264.20 L393.00 264.20 L393.00 265.40 L393.10 265.40 L393.10 266.60 L393.20 266.60 L393.20 267.80 L393.30 267.80 L393.30 269.00 L393.50 272.40 L393.95 272.40 L393.95 273.42 L394.40 273.42 L394.40 274.45 L394.85 274.45 L394.85 275.48 L395.30 275.48 L395.30 276.50 L396.00 276.50 L396.00 277.52 L396.70 277.52 L396.70 278.55 L397.40 278.55 L397.40 279.58 L398.10 279.58 L398.10 280.60 L398.10 286.80 L398.75 286.80 L398.75 287.50 L399.40 287.50 L399.40 288.20 L404.30 288.20 L404.62 288.20 L404.62 289.40 L404.95 289.40 L404.95 290.60 L405.28 290.60 L405.28 291.80 L405.60 291.80 L405.60 293.00 L406.00 293.00 L406.00 294.30 L406.40 294.30 L406.40 295.60 L406.80 295.60 L406.80 296.90 L407.14 296.90 L407.14 297.94 L407.48 297.94 L407.48 298.98 L407.82 298.98 L407.82 300.02 L408.16 300.02 L408.16 301.06 L408.50 301.06 L408.50 302.10 L411.10 303.00 L411.40 303.00 L411.40 304.13 L411.70 304.13 L411.70 305.27 L412.00 305.27 L412.00 306.40 L420.70 306.40 L420.86 306.40 L420.86 307.44 L421.02 307.44 L421.02 308.48 L421.18 308.48 L421.18 309.52 L421.34 309.52 L421.34 310.56 L421.50 310.56 L421.50 311.60 L429.30 311.60 L429.60 311.60 L429.60 312.70 L429.90 312.70 L429.90 313.80 L430.20 313.80 L430.20 314.90 L430.50 314.90 L430.50 316.00 L430.77 316.00 L430.77 317.27 L431.05 317.27 L431.05 318.55 L431.33 318.55 L431.33 319.83 L431.60 319.83 L431.60 321.10 L431.72 321.10 L431.72 322.32 L431.84 322.32 L431.84 323.54 L431.96 323.54 L431.96 324.76 L432.08 324.76 L432.08 325.98 L432.20 325.98 L432.20 327.20 L432.38 327.20 L432.38 328.47 L432.57 328.47 L432.57 329.73 L432.75 329.73 L432.75 331.00 L432.93 331.00 L432.93 332.27 L433.12 332.27 L433.12 333.53 L433.30 333.53 L433.30 334.80 L508.00 334.80" fill="none" stroke="#5a2574" stroke-width="1.60" stroke-linejoin="round" stroke-linecap="butt"/>
<path d="M386.50 241.90H390.75V276.13H396.81V310.47H405.06V344.70" fill="none" stroke="#27b042" stroke-width="1.60" stroke-linejoin="miter" stroke-linecap="butt"/>
<text x="470.00" y="278.90" font-size="8.70" textLength="20.00" lengthAdjust="spacingAndGlyphs">Other</text>
<text x="433.50" y="303.20" font-size="8.70" textLength="38.80" lengthAdjust="spacingAndGlyphs">CDX2-high</text>
<text x="437.20" y="332.40" font-size="8.70" textLength="23.30" lengthAdjust="spacingAndGlyphs">Ph-like</text>
<text x="406.80" y="345.20" font-size="8.70" textLength="42.10" lengthAdjust="spacingAndGlyphs">IDH1/2-mut</text>
<text x="470.80" y="254.80" font-size="8.70" textLength="34.10" lengthAdjust="spacingAndGlyphs">p=1.3×10</text>
<text x="505.10" y="250.20" font-size="5.60" textLength="5.30" lengthAdjust="spacingAndGlyphs">−8</text>
<text x="351.20" y="384.20" font-size="8.20" textLength="33.60" lengthAdjust="spacingAndGlyphs">No. at risk</text>
<text x="351.10" y="395.20" font-size="8.20" textLength="19.20" lengthAdjust="spacingAndGlyphs">CDX2</text>
<text x="386.50" y="395.20" font-size="8.20" text-anchor="middle" textLength="3.90" lengthAdjust="spacingAndGlyphs">8</text>
<text x="410.76" y="395.20" font-size="8.20" text-anchor="middle" textLength="3.90" lengthAdjust="spacingAndGlyphs">3</text>
<text x="435.02" y="395.20" font-size="8.20" text-anchor="middle" textLength="3.90" lengthAdjust="spacingAndGlyphs">3</text>
<text x="459.28" y="395.20" font-size="8.20" text-anchor="middle" textLength="3.90" lengthAdjust="spacingAndGlyphs">2</text>
<text x="483.54" y="395.20" font-size="8.20" text-anchor="middle" textLength="3.90" lengthAdjust="spacingAndGlyphs">1</text>
<text x="507.80" y="395.20" font-size="8.20" text-anchor="middle" textLength="3.90" lengthAdjust="spacingAndGlyphs">0</text>
<text x="351.10" y="406.28" font-size="8.20" textLength="23.30" lengthAdjust="spacingAndGlyphs">IDH1/2</text>
<text x="386.50" y="406.28" font-size="8.20" text-anchor="middle" textLength="3.90" lengthAdjust="spacingAndGlyphs">3</text>
<text x="410.76" y="406.28" font-size="8.20" text-anchor="middle" textLength="3.90" lengthAdjust="spacingAndGlyphs">0</text>
<text x="435.02" y="406.28" font-size="8.20" text-anchor="middle" textLength="3.90" lengthAdjust="spacingAndGlyphs">0</text>
<text x="459.28" y="406.28" font-size="8.20" text-anchor="middle" textLength="3.90" lengthAdjust="spacingAndGlyphs">0</text>
<text x="483.54" y="406.28" font-size="8.20" text-anchor="middle" textLength="3.90" lengthAdjust="spacingAndGlyphs">0</text>
<text x="507.80" y="406.28" font-size="8.20" text-anchor="middle" textLength="3.90" lengthAdjust="spacingAndGlyphs">0</text>
<text x="351.10" y="417.36" font-size="8.20" textLength="23.00" lengthAdjust="spacingAndGlyphs">Ph-like</text>
<text x="386.50" y="417.36" font-size="8.20" text-anchor="middle" textLength="7.80" lengthAdjust="spacingAndGlyphs">27</text>
<text x="410.76" y="417.36" font-size="8.20" text-anchor="middle" textLength="7.80" lengthAdjust="spacingAndGlyphs">11</text>
<text x="435.02" y="417.36" font-size="8.20" text-anchor="middle" textLength="3.90" lengthAdjust="spacingAndGlyphs">2</text>
<text x="459.28" y="417.36" font-size="8.20" text-anchor="middle" textLength="3.90" lengthAdjust="spacingAndGlyphs">2</text>
<text x="483.54" y="417.36" font-size="8.20" text-anchor="middle" textLength="3.90" lengthAdjust="spacingAndGlyphs">1</text>
<text x="507.80" y="417.36" font-size="8.20" text-anchor="middle" textLength="3.90" lengthAdjust="spacingAndGlyphs">1</text>
<text x="351.10" y="428.44" font-size="8.20" textLength="18.90" lengthAdjust="spacingAndGlyphs">Other</text>
<text x="386.50" y="428.44" font-size="8.20" text-anchor="middle" textLength="11.70" lengthAdjust="spacingAndGlyphs">141</text>
<text x="410.76" y="428.44" font-size="8.20" text-anchor="middle" textLength="11.70" lengthAdjust="spacingAndGlyphs">101</text>
<text x="435.02" y="428.44" font-size="8.20" text-anchor="middle" textLength="7.80" lengthAdjust="spacingAndGlyphs">84</text>
<text x="459.28" y="428.44" font-size="8.20" text-anchor="middle" textLength="7.80" lengthAdjust="spacingAndGlyphs">44</text>
<text x="483.54" y="428.44" font-size="8.20" text-anchor="middle" textLength="7.80" lengthAdjust="spacingAndGlyphs">27</text>
<text x="507.80" y="428.44" font-size="8.20" text-anchor="middle" textLength="7.80" lengthAdjust="spacingAndGlyphs">11</text>
</g>
<rect x="0.5" y="0.5" width="519" height="435" fill="none" stroke="#000" stroke-width="1"/>
</svg>
</body></html>
